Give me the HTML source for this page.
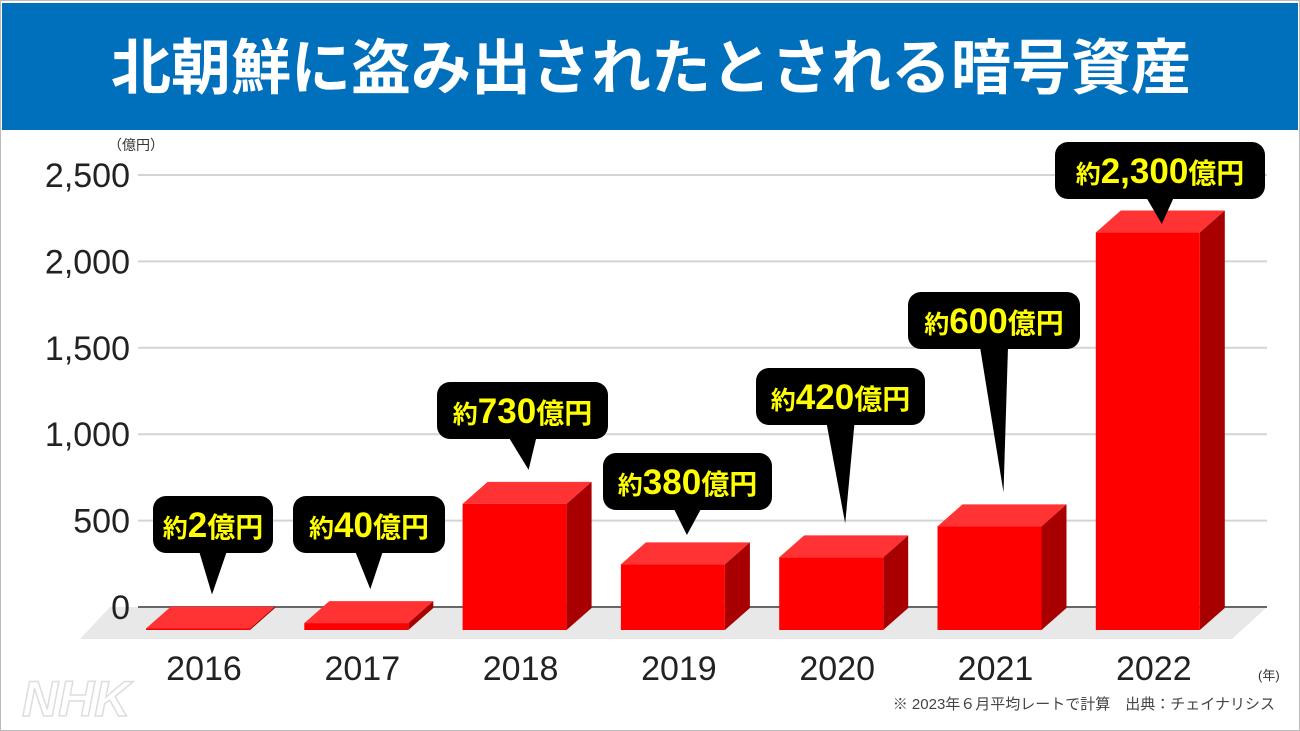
<!DOCTYPE html>
<html><head><meta charset="utf-8">
<style>
body{margin:0;background:#fff;}
#wrap{position:relative;width:1300px;height:731px;overflow:hidden;background:#fff;font-family:"Liberation Sans","Noto Sans CJK JP",sans-serif;}
</style></head>
<body>
<div id="wrap">
<svg id="chart" width="1300" height="731" xmlns="http://www.w3.org/2000/svg">
  <rect x="0.5" y="0.5" width="1299" height="730" fill="#fff" stroke="#bbb"/>
  <rect x="2" y="3" width="1296" height="127" fill="#0070bd"/>
  <text x="651" y="89" text-anchor="middle" fill="#fff" font-size="60" font-weight="bold" font-family="'Liberation Sans','Noto Sans CJK JP',sans-serif">北朝鮮に盗み出されたとされる暗号資産</text>
  <text x="108" y="150" font-size="14" fill="#333" font-family="'Liberation Sans','Noto Sans CJK JP',sans-serif">（億円）</text>
  <polygon points="110,607 1267,607 1232,639 80,639" fill="#e8e8e8"/>
  <g id="grid"></g>
  <line x1="138" y1="607" x2="1267" y2="607" stroke="#666" stroke-width="2"/>
  <g id="bars"></g>
  <g id="callouts"></g>
  <g id="xlabels"></g>
  <text x="1258" y="680" font-size="13" fill="#333" font-family="'Liberation Sans','Noto Sans CJK JP',sans-serif">(年)</text>
  <text x="1275" y="709" text-anchor="end" font-size="15" fill="#444" font-family="'Liberation Sans','Noto Sans CJK JP',sans-serif">※ 2023年６月平均レートで計算　出典：チェイナリシス</text>
  <text x="22" y="716" font-size="50" font-style="italic" font-weight="bold" fill="none" stroke="#ddd" stroke-width="1.5" font-family="'Liberation Sans',sans-serif">NHK</text>
</svg>
</div>
<script>
const categories = ["2016","2017","2018","2019","2020","2021","2022"];
const values = [2, 40, 730, 380, 420, 600, 2300];
const labels = ["約2億円","約40億円","約730億円","約380億円","約420億円","約600億円","約2,300億円"];
const yTicks = [0, 500, 1000, 1500, 2000, 2500];
const yTickLabels = ["0","500","1,000","1,500","2,000","2,500"];
// callout box layout (not data): [x, y, width]
const boxLayout = [[153,496,120],[293,496,152],[437,382,171],[603,453,169],[756,368,169],[908,292,172],[1055,142,210]];

const NS = "http://www.w3.org/2000/svg";
const BASE_BACK = 607, BASE_FRONT = 630, PX = 432/2500;
const DX = 25, DY = 22, BW = 104;
function yBack(v){ return BASE_BACK - v*PX; }
function xCenter(i){ return 198 + i*158.3; }
function mk(tag, attrs, parent){ const e=document.createElementNS(NS,tag); for(const k in attrs) e.setAttribute(k,attrs[k]); parent.appendChild(e); return e; }

const grid = document.getElementById('grid');
yTicks.forEach((t,i)=>{
  const y = yBack(t);
  if (t !== 0) {
    const l = mk('line',{x1:138,y1:y,x2:1267,y2:y,stroke:'#d4d4d4','stroke-width':2},grid);
    
    
  }
  const tx = mk('text',{x:130,y:y+12,'text-anchor':'end','font-size':34,fill:'#222','font-family':"'Liberation Sans',sans-serif"},grid);
  tx.textContent = yTickLabels[i];
  
  
});

const bars = document.getElementById('bars');
values.forEach((v,i)=>{
  const h = Math.max(v*PX, 1.5);
  const xf = xCenter(i) - BW/2;
  const yt = BASE_FRONT - h;
  const g = mk('g',{},bars);
  
  
  mk('polygon',{points:`${xf},${yt} ${xf+DX},${yt-DY} ${xf+BW+DX},${yt-DY} ${xf+BW},${yt}`,fill:'#ff3333'},g);
  mk('polygon',{points:`${xf+BW},${yt} ${xf+BW+DX},${yt-DY} ${xf+BW+DX},${BASE_FRONT-DY} ${xf+BW},${BASE_FRONT}`,fill:'#a80000'},g);
  mk('rect',{x:xf,y:yt,width:BW,height:h,fill:'#ff0000'},g);
});

const callouts = document.getElementById('callouts');
values.forEach((v,i)=>{
  const [bx,by,bw] = boxLayout[i];
  const bh = 57;
  const topFace = BASE_FRONT - Math.max(v*PX,1.5) - DY;
  const tipY = Math.max(topFace - 12, by + bh + 25);
  const tipX = xCenter(i) + 14;
  const cx = bx + bw/2;
  const g = mk('g',{},callouts);
  
  
  mk('polygon',{points:`${cx-14},${by+bh-2} ${cx+14},${by+bh-2} ${tipX},${tipY}`,fill:'#000'},g);
  mk('rect',{x:bx,y:by,width:bw,height:bh,rx:13,fill:'#000'},g);
  const t = mk('text',{x:cx,y:by+41,'text-anchor':'middle','font-size':35,'font-weight':'bold',fill:'#ffff00','font-family':"'Liberation Sans','Noto Sans CJK JP',sans-serif"},g);
  const lbl = labels[i];
  const s1 = mk('tspan',{'font-size':25},t); s1.textContent = lbl.slice(0,1);
  const s2 = mk('tspan',{},t); s2.textContent = lbl.slice(1,-2);
  const s3 = mk('tspan',{'font-size':28},t); s3.textContent = lbl.slice(-2);
});

const xl = document.getElementById('xlabels');
categories.forEach((c,i)=>{
  const t = mk('text',{x:xCenter(i)+6,y:680,'text-anchor':'middle','font-size':34,fill:'#222','font-family':"'Liberation Sans',sans-serif"},xl);
  t.textContent = c;
  
  
});
</script>
</body></html>
